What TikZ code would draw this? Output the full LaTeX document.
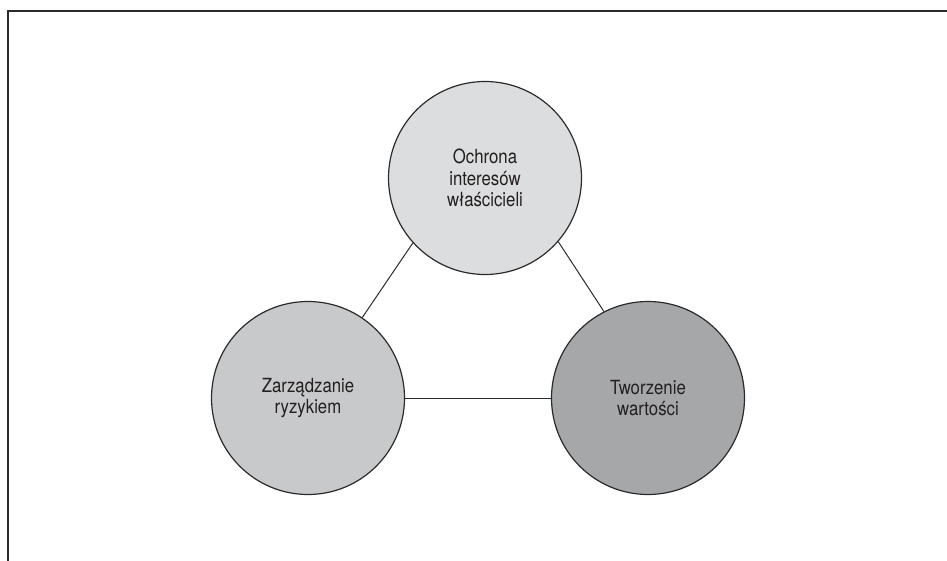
\documentclass[tikz,border=0pt]{standalone}
\usepackage{fontspec}
\setmainfont[FakeStretch=0.86]{TeX Gyre Heros}
\definecolor{edge}{HTML}{2B2B2B}
\definecolor{txt}{HTML}{231F20}
\definecolor{fillA}{HTML}{DCDDDE}
\definecolor{fillB}{HTML}{C8C9CA}
\definecolor{fillC}{HTML}{A6A7A9}
\tikzset{
  bubble/.style={circle, draw=edge, line width=1.2pt, minimum size=193pt, inner sep=0pt,
    align=center, text=txt, font=\fontsize{19.5}{21.7}\selectfont},
  link/.style={draw=edge, line width=1pt},
  frame/.style={draw=edge, line width=2pt}
}
\begin{document}
\begin{tikzpicture}[x=1pt,y=-1pt]
\useasboundingbox (0,0) rectangle (947,561);
\coordinate (fa) at (947,11);
\coordinate (fb) at (8,11);
\coordinate (fc) at (8,561);
\draw[frame] (fa) -- (fb) -- (fc);
\node[bubble, fill=fillA] (top) at (485,178) {Ochrona\\interesów\\właścicieli};
\node[bubble, fill=fillB] (left) at (308,398) {Zarządzanie\\ryzykiem};
\node[bubble, fill=fillC] (right) at (648,398) {Tworzenie\\wartości};
\draw[link] (top.222) -- (left.56);
\draw[link] (top.-41) -- (right.117);
\draw[link] (left.east) -- (right.west);
\end{tikzpicture}
\end{document}
